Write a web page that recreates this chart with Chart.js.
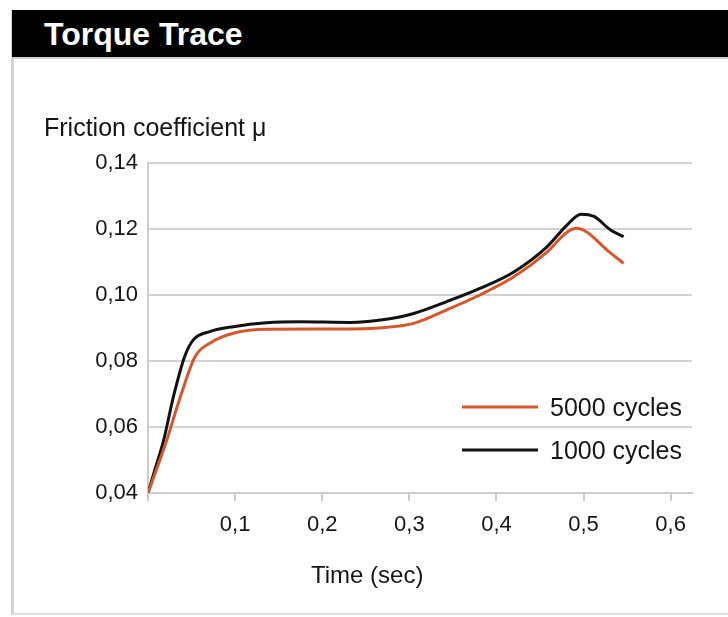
<!DOCTYPE html>
<html>
<head>
<meta charset="utf-8">
<script src="https://cdn.jsdelivr.net/npm/chart.js@4"></script>
<style>
  html, body { margin: 0; padding: 0; background: #fff; }
  body { width: 728px; height: 617px; position: relative; overflow: hidden; }
  .panel {
    position: absolute; left: 11px; top: 10px; width: 730px; height: 603px;
    border-left: 3px solid #d2d2d2; border-bottom: 2px solid #e2e2e2;
  }
  .header {
    position: absolute; left: 12px; top: 10px; width: 716px; height: 47px;
    background: #000; color: #fff; border-bottom: 2px solid #cfcfcf;
    font: bold 32px "Liberation Sans", Arial, Helvetica, sans-serif;
    line-height: 47px; z-index: 2;
  }
  .header span { position: absolute; left: 32px; top: 1px; }
  .ylabel, .xlabel {
    position: absolute; z-index: 2; color: #161616;
    font: 25px "Liberation Sans", Arial, Helvetica, sans-serif;
  }
  .ylabel { left: 44px; top: 113px; }
  .xlabel { left: 311px; top: 561px; font-size: 24px; }
  canvas { position: absolute; left: 0; top: 0; z-index: 1; }
</style>
</head>
<body>
<div class="panel"></div>
<div class="header"><span>Torque Trace</span></div>
<div class="ylabel">Friction coefficient μ</div>
<div class="xlabel">Time (sec)</div>
<canvas id="chart" width="728" height="617"></canvas>
<script>
const seriesLabels = ['5000 cycles', '1000 cycles']
const seriesColors = ['#d5572b', '#111111']

const time5000 = [0, 0.0215, 0.037, 0.054, 0.071, 0.098, 0.136, 0.213, 0.27, 0.305, 0.343, 0.381, 0.42, 0.458, 0.481, 0.492, 0.504, 0.527, 0.546]
const mu5000 = [0.040, 0.056, 0.069, 0.0813, 0.0854, 0.0884, 0.0896, 0.0897, 0.0901, 0.0914, 0.0955, 0.100, 0.1055, 0.113, 0.119, 0.1202, 0.119, 0.1136, 0.1096]

const time1000 = [0, 0.009, 0.018, 0.029, 0.042, 0.052, 0.071, 0.098, 0.136, 0.174, 0.232, 0.267, 0.305, 0.343, 0.381, 0.42, 0.458, 0.481, 0.497, 0.512, 0.531, 0.546]
const mu1000 = [0.040, 0.048, 0.056, 0.069, 0.0813, 0.0864, 0.0889, 0.0904, 0.0916, 0.0919, 0.0917, 0.0924, 0.0944, 0.098, 0.102, 0.107, 0.1146, 0.1212, 0.1245, 0.1238, 0.1197, 0.1177]

const xTicks = [0, 0.1, 0.2, 0.3, 0.4, 0.5, 0.6]
const yTicks = [0.04, 0.06, 0.08, 0.10, 0.12, 0.14]

const FONT = '"Liberation Sans", Arial, Helvetica, sans-serif'

function toPoints(xs, ys) {
  return xs.map((x, i) => ({ x, y: ys[i] }))
}

// legend drawn inside the plot, bottom right, no box
const insideLegend = {
  id: 'insideLegend',
  afterDatasetsDraw(chart) {
    const { ctx, chartArea } = chart
    ctx.save()
    ctx.font = '25px ' + FONT
    ctx.textBaseline = 'middle'
    ctx.fillStyle = '#161616'
    chart.data.datasets.forEach((ds, i) => {
      const y = chartArea.bottom - 86 + i * 43
      ctx.strokeStyle = ds.borderColor
      ctx.lineWidth = 3
      ctx.beginPath()
      ctx.moveTo(chartArea.right - 230, y)
      ctx.lineTo(chartArea.right - 154, y)
      ctx.stroke()
      ctx.fillText(ds.label, chartArea.right - 142, y + 2)
    })
    ctx.restore()
  },
}

new Chart(document.getElementById('chart'), {
  type: 'scatter',
  data: {
    datasets: [
      { label: seriesLabels[0], data: toPoints(time5000, mu5000), borderColor: seriesColors[0] },
      { label: seriesLabels[1], data: toPoints(time1000, mu1000), borderColor: seriesColors[1] },
    ].map(ds => ({
      ...ds,
      showLine: true,
      borderWidth: 3,
      pointRadius: 0,
      cubicInterpolationMode: 'monotone',
    })),
  },
  options: {
    responsive: false,
    animation: false,
    layout: { padding: { top: 163, right: 36, left: 0, bottom: 0 } },
    plugins: { legend: { display: false }, tooltip: { enabled: false } },
    scales: {
      x: {
        type: 'linear',
        min: 0,
        max: 0.6245,
        afterBuildTicks(scale) { scale.ticks = xTicks.map(v => ({ value: v })) },
        afterFit(scale) { scale.height = 124 },
        border: { display: true, color: '#cccccc', width: 2 },
        grid: { drawOnChartArea: false, drawTicks: true, tickLength: 8, color: '#cccccc', lineWidth: 2 },
        ticks: {
          padding: 11,
          color: '#161616',
          font: { family: FONT, size: 22 },
          callback: v => (v === 0 ? '' : v.toFixed(1).replace('.', ',')),
        },
      },
      y: {
        min: 0.04,
        max: 0.14,
        afterBuildTicks(scale) { scale.ticks = yTicks.map(v => ({ value: v })) },
        afterFit(scale) { scale.width = 148 },
        border: { display: true, color: '#cccccc', width: 2 },
        grid: { drawTicks: false, color: '#d2d2d2', lineWidth: 2 },
        ticks: {
          padding: 10,
          color: '#161616',
          font: { family: FONT, size: 22 },
          callback: v => v.toFixed(2).replace('.', ','),
        },
      },
    },
  },
  plugins: [insideLegend],
})
</script>
</body>
</html>
